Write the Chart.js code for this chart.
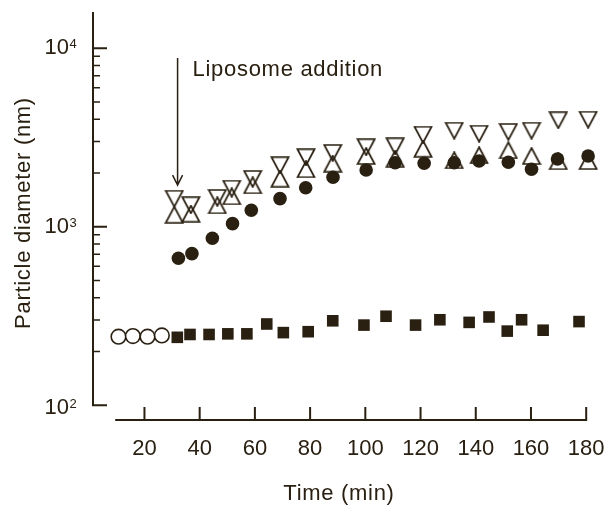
<!DOCTYPE html>
<html>
<head>
<meta charset="utf-8">
<script src="https://cdn.jsdelivr.net/npm/chart.js@4"></script>
<style>
  html, body { margin: 0; padding: 0; background: #fff; }
</style>
</head>
<body>
<canvas id="myChart" width="613" height="508"></canvas>
<script>
const ink = '#2a2012';
const font_family = '"Liberation Sans", Arial, sans-serif';

// before liposome addition (open circles)
const open_time = [10.6, 15.8, 21.1, 26.3];
const open_diam = [242, 244, 242, 246];

// filled squares
const square_time = [31.9, 36.5, 43.4, 50.2, 57.1, 64.3, 70.3, 79.3, 88.2, 99.5,
                     107.5, 118.2, 127.0, 137.6, 144.8, 151.4, 156.6, 164.4, 177.4];
const square_diam = [240, 249, 249, 251, 251, 285, 255, 258, 297, 281,
                     315, 281, 301, 291, 312, 260, 301, 263, 294];

// filled circles
const circle_time = [32.3, 37.2, 44.6, 51.9, 58.7, 69.1, 78.4, 88.3, 100.3, 110.8,
                     121.3, 132.2, 141.2, 151.8, 160.2, 169.6, 180.7];
const circle_diam = [665, 706, 861, 1040, 1236, 1436, 1653, 1892, 2079, 2283,
                     2265, 2283, 2334, 2296, 2097, 2395, 2490];

// open triangles (up and down)
const tri_time = [30.8, 36.8, 46.4, 51.6, 59.2, 69.1, 78.5, 88.2, 100.3, 110.8,
                  120.9, 132.2, 141.2, 151.8, 160.2, 169.9, 180.7];
const down_diam = [1435, 1318, 1448, 1633, 1850, 2208, 2447, 2588, 2785, 2819,
                   3276, 3450, 3318, 3393, 3450, 3947, 3974];
const up_diam = [1167, 1183, 1318, 1480, 1706, 1858, 2099, 2254, 2490, 2405,
                 2735, 2355, 2512, 2680, 2490, 2327, 2333];

const x_ticks = [20, 40, 60, 80, 100, 120, 140, 160, 180];
const y_major = [100, 1000, 10000];
const y_exp = ['2', '3', '4'];

// liposome addition arrow (time, from, to)
const arrow_time = 32;
const arrow_from = 8800;
const arrow_to = 1710;

function pts(xs, ys) {
    return xs.map((x, i) => ({x: x, y: ys[i]}));
}

function tri_img(up) {
    const c = document.createElement('canvas');
    c.width = 20;
    c.height = 18;
    const g = c.getContext('2d');
    g.strokeStyle = ink;
    g.lineWidth = 1.7;
    g.beginPath();
    if (up) {
        g.moveTo(10, 1);
        g.lineTo(18.5, 17);
        g.lineTo(1.5, 17);
    } else {
        g.moveTo(1.5, 1);
        g.lineTo(18.5, 1);
        g.lineTo(10, 17);
    }
    g.closePath();
    g.stroke();
    return c;
}

const frame = {
    id: 'frame',
    afterDraw(chart) {
        const {ctx, chartArea: a, scales: {x, y}} = chart;
        ctx.save();
        ctx.strokeStyle = ink;
        ctx.fillStyle = ink;
        ctx.lineWidth = 2;

        // y axis
        const yl = a.left + 1;
        const yb = y.getPixelForValue(100);
        ctx.beginPath();
        ctx.moveTo(yl, a.top);
        ctx.lineTo(yl, yb);
        y_major.forEach(v => {
            const py = y.getPixelForValue(v);
            ctx.moveTo(yl - 1, py);
            ctx.lineTo(yl + 14, py);
        });
        ctx.stroke();
        ctx.lineWidth = 1.5;
        ctx.beginPath();
        [100, 1000].forEach(d => {
            for (let k = 2; k <= 9; k++) {
                const py = y.getPixelForValue(d * k);
                ctx.moveTo(yl, py);
                ctx.lineTo(yl + 7, py);
            }
        });
        ctx.stroke();

        y_major.forEach((v, i) => {
            const py = y.getPixelForValue(v) + (i === 0 ? 3 : 0);
            ctx.font = '22px ' + font_family;
            ctx.textAlign = 'right';
            ctx.textBaseline = 'middle';
            ctx.fillText('10', 69, py);
            ctx.font = '13px ' + font_family;
            ctx.textAlign = 'left';
            ctx.textBaseline = 'top';
            ctx.fillText(y_exp[i], 69.5, py - 10);
        });

        // x axis
        ctx.lineWidth = 2;
        ctx.beginPath();
        ctx.moveTo(x.getPixelForValue(9.4), a.bottom);
        ctx.lineTo(x.getPixelForValue(180) + 1, a.bottom);
        x_ticks.forEach(t => {
            const px = x.getPixelForValue(t);
            ctx.moveTo(px, a.bottom);
            ctx.lineTo(px, a.bottom - 13);
        });
        ctx.stroke();

        ctx.font = '22px ' + font_family;
        ctx.textAlign = 'center';
        ctx.textBaseline = 'middle';
        x_ticks.forEach(t => {
            ctx.fillText(String(t), x.getPixelForValue(t), a.bottom + 29);
        });

        // titles
        ctx.letterSpacing = '0.7px';
        ctx.font = '22px ' + font_family;
        ctx.fillText('Time (min)', 339, 494);
        ctx.save();
        ctx.translate(24, 213);
        ctx.rotate(-Math.PI / 2);
        ctx.fillText('Particle diameter (nm)', 0, 0);
        ctx.restore();

        // arrow + note
        const ax = x.getPixelForValue(arrow_time);
        const ay0 = y.getPixelForValue(arrow_from);
        const ay1 = y.getPixelForValue(arrow_to);
        ctx.lineWidth = 1.5;
        ctx.beginPath();
        ctx.moveTo(ax, ay0);
        ctx.lineTo(ax, ay1);
        ctx.moveTo(ax - 5, ay1 - 10);
        ctx.lineTo(ax, ay1);
        ctx.lineTo(ax + 5, ay1 - 10);
        ctx.stroke();
        ctx.textAlign = 'left';
        ctx.fillText('Liposome addition', ax + 15, ay0 + 12);
        ctx.restore();
    }
};

new Chart(document.getElementById('myChart'), {
    type: 'scatter',
    data: {
        datasets: [{
            data: pts(circle_time, circle_diam),
            pointStyle: 'circle',
            pointRadius: 6.8,
            backgroundColor: ink,
            borderWidth: 0
        }, {
            data: pts(square_time, square_diam),
            pointStyle: 'rect',
            pointRadius: 8.2,
            backgroundColor: ink,
            borderWidth: 0
        }, {
            data: pts(open_time, open_diam),
            pointStyle: 'circle',
            pointRadius: 7.3,
            backgroundColor: '#fff',
            borderColor: ink,
            borderWidth: 1.6
        }, {
            data: pts(tri_time, up_diam),
            pointStyle: tri_img(true),
            pointRadius: 8
        }, {
            data: pts(tri_time, down_diam),
            pointStyle: tri_img(false),
            pointRadius: 8
        }]
    },
    options: {
        responsive: false,
        devicePixelRatio: 1,
        animation: false,
        events: [],
        layout: {
            padding: {left: 92, right: 13, top: 12, bottom: 88}
        },
        plugins: {
            legend: {display: false},
            tooltip: {enabled: false}
        },
        scales: {
            x: {
                type: 'linear',
                min: 1,
                max: 185,
                display: false
            },
            y: {
                type: 'logarithmic',
                min: 82.6,
                max: 15950,
                display: false
            }
        }
    },
    plugins: [frame]
});
</script>
</body>
</html>
